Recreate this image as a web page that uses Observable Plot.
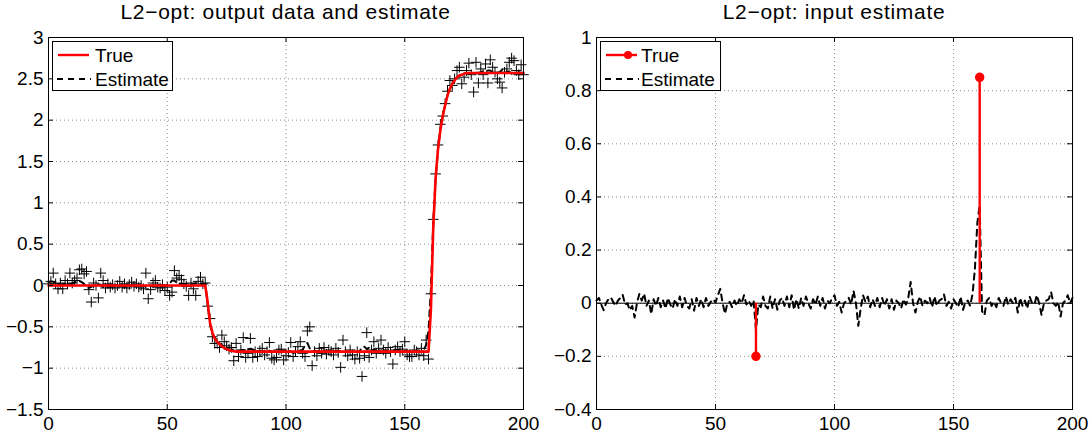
<!DOCTYPE html>
<html><head><meta charset="utf-8">
<script src="https://cdn.jsdelivr.net/npm/d3@7"></script>
<script src="https://cdn.jsdelivr.net/npm/@observablehq/plot@0.6"></script>
<style>
body{margin:0;background:#fff;}
#wrap{position:relative;width:1092px;height:437px;overflow:hidden;font-family:"Liberation Sans",Arial,Helvetica,sans-serif;background:#fff;}
.panel{position:absolute;top:0;}
.title{position:absolute;top:0;font-size:21px;letter-spacing:0.7px;white-space:nowrap;transform:translateX(-50%);line-height:24px;color:#000;}
.legend{position:absolute;}
</style></head>
<body><div id="wrap"></div>
<script>
// ---- tick labels / categories ----
const xTicks = [0, 50, 100, 150, 200];
const yTicksOut = [-1.5, -1, -0.5, 0, 0.5, 1, 1.5, 2, 2.5, 3];
const yTicksIn = [-0.4, -0.2, 0, 0.2, 0.4, 0.6, 0.8, 1];
const titleOut = "L2−opt: output data and estimate";
const titleIn = "L2−opt: input estimate";
const legendLabels = ["True", "Estimate"];

// ---- output data (samples 0..200) ----
const outData = [
 0.02,0.05,0.15,0.02,-0.04,0.03,-0.04,0.06,0.02,0.15,
 0.03,0.06,0.09,0.19,0.2,0.14,0.17,-0.05,-0.2,0.03,
 0.0,-0.15,0.15,0.06,-0.03,0.02,-0.02,0.01,-0.03,0.0,
 0.05,-0.02,0.02,-0.03,0.01,0.04,-0.01,0.02,-0.02,0.0,
 -0.04,0.15,-0.16,-0.05,0.03,0.06,-0.02,-0.03,0.01,-0.06,
 -0.02,-0.12,-0.08,0.18,0.09,0.12,0.07,0.02,-0.01,-0.12,
 0.03,-0.04,-0.12,0.05,0.1,0.02,0.03,-0.25,-0.4,-0.62,
 -0.7,-0.7,-0.75,-0.6,-0.68,-0.73,-0.77,-0.75,-0.91,-0.7,
 -0.86,-0.78,-0.63,-0.87,-0.82,-0.64,-0.87,-0.8,-0.86,-0.79,
 -0.76,-0.84,-0.8,-0.69,-0.88,-0.9,-0.87,-0.78,-0.77,-0.9,
 -0.85,-0.81,-0.69,-0.86,-0.8,-0.74,-0.68,-0.82,-0.86,-0.55,
 -0.5,-0.97,-0.8,-0.85,-0.76,-0.82,-0.75,-0.83,-0.78,-0.8,
 -0.84,-0.76,-0.81,-0.99,-0.66,-0.8,-0.85,-0.78,-0.84,-0.89,
 -0.8,-0.88,-1.1,-0.85,-0.57,-0.87,-0.78,-0.68,-0.82,-0.76,
 -0.66,-0.78,-0.82,-0.75,-0.8,-0.95,-0.78,-0.74,-0.8,-0.77,
 -0.68,-0.84,-0.86,-0.86,-0.78,-0.8,-0.84,-0.76,-0.85,-0.66,
 -0.89,-0.1,0.8,1.35,1.7,1.95,2.05,2.2,2.35,2.48,
 2.42,2.5,2.6,2.64,2.44,2.52,2.6,2.69,2.55,2.34,
 2.7,2.45,2.62,2.55,2.68,2.45,2.73,2.64,2.58,2.5,
 2.46,2.39,2.58,2.62,2.7,2.75,2.72,2.6,2.55,2.67,
 2.55
];

// ---- estimated output (samples 0..200) ----
const outEstimate = [
 0.04,0.05,0.045,0.03,0.02,0.01,0.015,0.02,0.02,0.015,
 0.025,0.04,0.05,0.055,0.04,0.02,-0.02,-0.03,-0.015,0.0,
 0.02,0.015,0.01,-0.02,-0.02,-0.015,-0.01,-0.005,0.0,-0.005,
 0.0,0.0,-0.01,-0.005,-0.005,0.005,-0.005,0.005,0.005,-0.005,
 0.0,-0.02,-0.01,-0.01,0.0,-0.005,0.0,-0.005,-0.005,0.0,
 0.0,0.02,0.06,0.06,0.03,0.025,0.025,0.015,0.015,0.01,
 0.015,0.015,0.03,0.025,0.025,0.015,0.02,-0.22,-0.47,-0.59,
 -0.63,-0.67,-0.71,-0.72,-0.75,-0.76,-0.78,-0.785,-0.79,-0.8,
 -0.79,-0.785,-0.78,-0.79,-0.775,-0.765,-0.775,-0.79,-0.795,-0.79,
 -0.81,-0.8,-0.8,-0.79,-0.8,-0.795,-0.81,-0.805,-0.8,-0.795,
 -0.785,-0.795,-0.795,-0.815,-0.81,-0.8,-0.785,-0.78,-0.72,-0.695,
 -0.76,-0.8,-0.79,-0.795,-0.79,-0.8,-0.795,-0.8,-0.795,-0.8,
 -0.79,-0.795,-0.79,-0.8,-0.795,-0.805,-0.8,-0.8,-0.81,-0.8,
 -0.805,-0.795,-0.75,-0.74,-0.77,-0.75,-0.76,-0.78,-0.79,-0.8,
 -0.79,-0.8,-0.79,-0.8,-0.8,-0.795,-0.775,-0.78,-0.79,-0.8,
 -0.795,-0.79,-0.8,-0.79,-0.805,-0.8,-0.8,-0.8,-0.78,-0.72,
 -0.55,-0.05,0.75,1.3,1.65,1.9,2.05,2.18,2.3,2.38,
 2.44,2.48,2.52,2.54,2.55,2.56,2.575,2.56,2.57,2.57,
 2.575,2.57,2.58,2.59,2.585,2.6,2.6,2.575,2.57,2.575,
 2.58,2.61,2.6,2.59,2.59,2.56,2.56,2.565,2.58,2.57,
 2.58
];

// ---- true output (breakpoints) ----
const trueOutX = [0,66,67,68,69,70,71,72,73,74,75,76,77,78,79,160,161,162,163,164,165,166,167,168,169,170,171,172,173,174,175,176,200];
const trueOutY = [0,0,-0.2,-0.45,-0.57,-0.64,-0.68,-0.71,-0.735,-0.755,-0.77,-0.78,-0.79,-0.795,-0.8,-0.8,-0.3,0.7,1.3,1.65,1.88,2.05,2.18,2.3,2.38,2.44,2.48,2.52,2.54,2.55,2.56,2.57,2.57];

// ---- estimated input (samples 0..200) ----
const inEstimate = [
 0.01,0.02,-0.005,-0.026,0.0,0.015,0.022,0.005,-0.01,0.01,
 0.02,0.032,-0.005,0.0,-0.026,-0.01,-0.054,0.0,0.035,0.01,
 0.036,-0.01,0.01,-0.041,0.015,-0.01,0.02,-0.015,0.01,-0.02,
 0.02,-0.005,-0.02,0.015,-0.01,0.025,-0.015,0.02,-0.01,-0.02,
 0.015,-0.028,0.02,-0.01,0.015,-0.015,0.02,-0.01,0.005,0.015,
 0.003,0.03,0.054,0.0,-0.04,0.0,0.005,-0.015,0.01,-0.01,
 0.015,0.0,0.03,-0.005,0.01,-0.01,0.01,-0.1,-0.005,-0.015,
 0.025,-0.01,-0.02,0.025,-0.02,0.015,-0.025,0.01,0.02,-0.01,
 0.025,-0.015,0.03,-0.025,0.015,-0.02,0.02,-0.01,0.025,0.0,
 -0.02,0.015,-0.005,0.025,-0.01,0.02,-0.02,0.01,0.0,0.018,
 0.03,-0.01,0.005,-0.035,0.0,0.01,0.02,-0.005,0.047,0.0,
 -0.085,-0.02,0.03,0.005,0.025,-0.015,0.015,-0.01,0.02,-0.015,
 0.02,-0.01,0.015,-0.02,0.015,-0.025,0.01,0.0,-0.02,0.015,
 -0.005,0.02,0.08,0.0,-0.035,0.005,0.025,-0.01,0.01,0.0,
 0.02,-0.015,0.025,-0.01,0.01,0.015,0.033,-0.01,0.005,-0.02,
 0.015,0.0,-0.015,0.025,-0.025,0.005,0.01,-0.01,0.035,0.13,
 0.3,0.37,-0.03,-0.045,0.01,0.02,-0.01,0.005,-0.015,0.02,
 0.0,-0.01,0.025,-0.005,0.015,0.0,0.02,-0.035,0.02,-0.01,
 0.01,-0.02,0.025,0.0,-0.005,0.03,0.0,-0.045,0.0,0.01,
 0.015,0.042,0.0,-0.01,0.005,-0.05,0.0,0.01,0.03,0.0,
 0.02
];

// ---- true input (non-zero samples) ----
const trueInX = [67, 161];
const trueInY = [-0.2, 0.85];

const samples = d3.range(outData.length);
const RED = "#ff0000";
const FONT = '"Liberation Sans", Arial, Helvetica, sans-serif';
const H = 437, MT = 37, MB = 28;
const PH = H - MT - MB;
const DASH = "6,5";
const fmt = d => (d < 0 ? "\u2212" : "") + String(Math.abs(d));

function boxMarks(pw, xt, yt) {
  return [
    Plot.frame({stroke: "black", strokeWidth: 1}),
    Plot.tickX(xt, {x: d => d, stroke: "black", insetTop: PH - 5}),
    Plot.tickX(xt, {x: d => d, stroke: "black", insetBottom: PH - 5}),
    Plot.tickY(yt, {y: d => d, stroke: "black", insetRight: pw - 5}),
    Plot.tickY(yt, {y: d => d, stroke: "black", insetLeft: pw - 5}),
    Plot.axisX({ticks: xt, tickSize: 0, tickPadding: 7, tickFormat: fmt}),
    Plot.axisY({ticks: yt, tickSize: 0, tickPadding: 5, tickFormat: fmt})
  ];
}
function gridMarks(xt, yt) {
  return [
    Plot.ruleX(xt, {x: d => d, stroke: "#8c8c8c", strokeWidth: 1, strokeDasharray: "1,3"}),
    Plot.ruleY(yt, {y: d => d, stroke: "#8c8c8c", strokeWidth: 1, strokeDasharray: "1,3"})
  ];
}

const wrap = document.getElementById("wrap");

// ---- left panel ----
const L = {width: 546, ml: 48, mr: 23};
const leftPW = L.width - L.ml - L.mr;
const left = Plot.plot({
  width: L.width, height: H,
  marginLeft: L.ml, marginRight: L.mr, marginTop: MT, marginBottom: MB,
  x: {domain: [0, 200]},
  y: {domain: [-1.5, 3]},
  style: {fontFamily: FONT, fontSize: "19px", color: "black", background: "transparent", overflow: "visible"},
  marks: [
    ...gridMarks(xTicks, yTicksOut),
    Plot.dot(samples, {x: i => i, y: i => outData[i], symbol: "plus", r: 3.5, stroke: "black", strokeWidth: 1}),
    Plot.line(samples, {x: i => i, y: i => outEstimate[i], stroke: "black", strokeWidth: 2, strokeDasharray: DASH}),
    Plot.line(trueOutX, {x: d => d, y: (d, i) => trueOutY[i], stroke: RED, strokeWidth: 2.6}),
    ...boxMarks(leftPW, xTicks, yTicksOut)
  ]
});
left.classList.add("panel");
left.style.left = "0px";
wrap.appendChild(left);

// ---- right panel ----
const R = {width: 546, ml: 50, mr: 20};
const rightPW = R.width - R.ml - R.mr;
const right = Plot.plot({
  width: R.width, height: H,
  marginLeft: R.ml, marginRight: R.mr, marginTop: MT, marginBottom: MB,
  x: {domain: [0, 200]},
  y: {domain: [-0.4, 1]},
  style: {fontFamily: FONT, fontSize: "19px", color: "black", background: "transparent", overflow: "visible"},
  marks: [
    ...gridMarks(xTicks, yTicksIn),
    Plot.ruleY([0], {stroke: "black", strokeWidth: 1}),
    Plot.line(samples, {x: i => i, y: i => inEstimate[i], stroke: "black", strokeWidth: 2, strokeDasharray: DASH}),
    Plot.ruleX(trueInX, {x: d => d, y1: 0, y2: (d, i) => trueInY[i], stroke: RED, strokeWidth: 2.4}),
    Plot.dot(trueInX, {x: d => d, y: (d, i) => trueInY[i], r: 4, fill: RED, stroke: RED}),
    ...boxMarks(rightPW, xTicks, yTicksIn)
  ]
});
right.classList.add("panel");
right.style.left = "546px";
wrap.appendChild(right);

// ---- titles ----
function addTitle(text, cx) {
  const d = document.createElement("div");
  d.className = "title";
  d.textContent = text;
  d.style.left = cx + "px";
  wrap.appendChild(d);
}
addTitle(titleOut, L.ml + leftPW / 2);
addTitle(titleIn, 546 + R.ml + rightPW / 2);

// ---- legends ----
const NS = "http://www.w3.org/2000/svg";
function el(tag, attrs, parent) {
  const e = document.createElementNS(NS, tag);
  for (const k in attrs) e.setAttribute(k, attrs[k]);
  parent.appendChild(e);
  return e;
}
function addLegend(x, y, w, withDot) {
  const s = document.createElementNS(NS, "svg");
  s.setAttribute("width", w + 2); s.setAttribute("height", 51);
  s.setAttribute("class", "legend");
  s.style.left = x + "px"; s.style.top = y + "px";
  el("rect", {x: 0.5, y: 0.5, width: w, height: 49, fill: "white", stroke: "black", "stroke-width": 1}, s);
  el("line", {x1: 6, x2: 37, y1: 14, y2: 14, stroke: RED, "stroke-width": 2.4}, s);
  if (withDot) el("circle", {cx: 28, cy: 14, r: 4, fill: RED}, s);
  el("line", {x1: 5, x2: 39, y1: 38, y2: 38, stroke: "black", "stroke-width": 2, "stroke-dasharray": DASH}, s);
  const tx = withDot ? 41 : 43;
  [14, 38].forEach((ty, i) => {
    const t = el("text", {x: tx, y: ty, dy: "0.35em", "font-size": 19, "font-family": FONT, fill: "black"}, s);
    t.textContent = legendLabels[i];
  });
  wrap.appendChild(s);
}
addLegend(52, 41, 120, false);
addLegend(600, 41, 120, true);
</script>
</body></html>
